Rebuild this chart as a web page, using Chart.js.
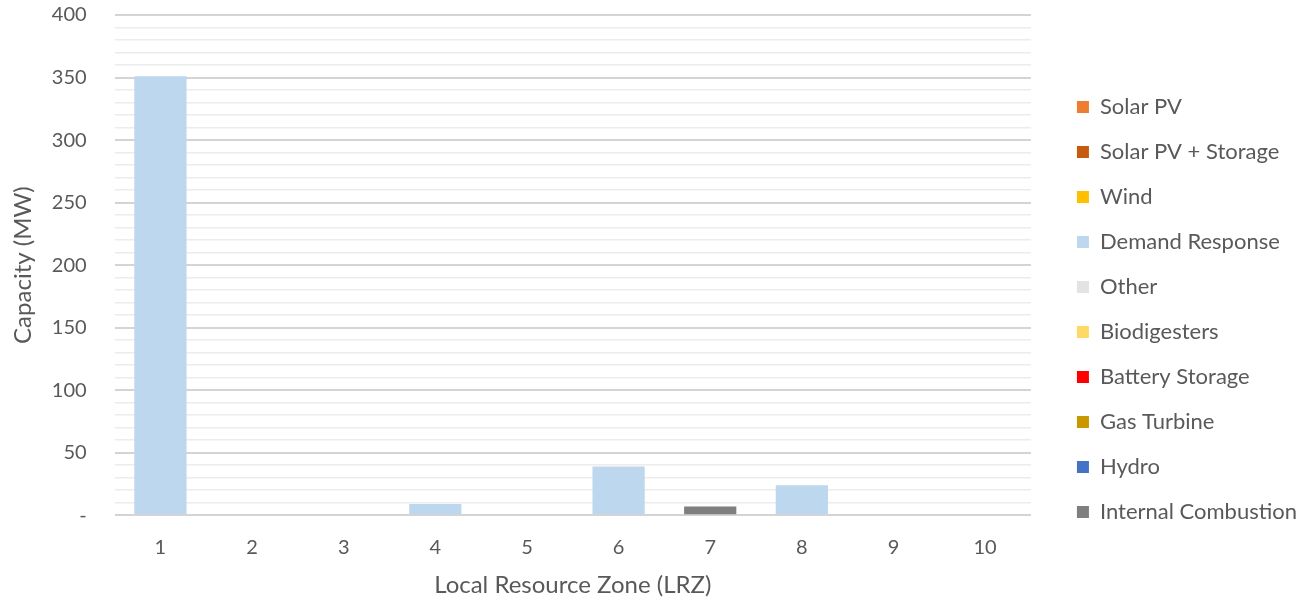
<!DOCTYPE html>
<html>
<head>
<meta charset="utf-8">
<script src="https://cdn.jsdelivr.net/npm/chart.js@4/dist/chart.umd.min.js"></script>
<style>
  html, body { margin: 0; padding: 0; background: #fff; }
  #wrap { width: 1300px; height: 601px; }
</style>
</head>
<body>
<div id="wrap"><canvas id="grafico"></canvas></div>
<script>
    var zonas = ['1', '2', '3', '4', '5', '6', '7', '8', '9', '10'];

    var solarPV        = [0, 0, 0, 0, 0, 0, 0, 0, 0, 0];
    var solarStorage   = [0, 0, 0, 0, 0, 0, 0, 0, 0, 0];
    var wind           = [0, 0, 0, 0, 0, 0, 0, 0, 0, 0];
    var demandResponse = [351, 0, 0, 9, 0, 39, 0, 24, 0, 0];
    var other          = [0, 0, 0, 0, 0, 0, 0, 0, 0, 0];
    var biodigesters   = [0, 0, 0, 0, 0, 0, 0, 0, 0, 0];
    var battery        = [0, 0, 0, 0, 0, 0, 0, 0, 0, 0];
    var gasTurbine     = [0, 0, 0, 0, 0, 0, 0, 0, 0, 0];
    var hydro          = [0, 0, 0, 0, 0, 0, 0, 0, 0, 0];
    var internalComb   = [0, 0, 0, 0, 0, 0, 7, 0, 0, 0];

    var yTicks = [0, 50, 100, 150, 200, 250, 300, 350, 400];

    var fonte = 'Lato, "Open Sans", sans-serif';
    var cinza = '#595959';

    function serie(label, data, cor) {
        return {
            label: label,
            data: data,
            backgroundColor: cor,
            borderWidth: 0,
            categoryPercentage: 1,
            barPercentage: 0.57
        };
    }

    new Chart(document.getElementById('grafico'), {
        type: 'bar',
        data: {
            labels: zonas,
            datasets: [
                serie('Solar PV', solarPV, '#ed7d31'),
                serie('Solar PV + Storage', solarStorage, '#c55a11'),
                serie('Wind', wind, '#ffc000'),
                serie('Demand Response', demandResponse, '#bdd7ee'),
                serie('Other', other, '#e3e3e3'),
                serie('Biodigesters', biodigesters, '#ffd966'),
                serie('Battery Storage', battery, '#ff0000'),
                serie('Gas Turbine', gasTurbine, '#c99700'),
                serie('Hydro', hydro, '#4472c4'),
                serie('Internal Combustion', internalComb, '#7f7f7f')
            ]
        },
        options: {
            responsive: true,
            maintainAspectRatio: false,
            animation: false,
            layout: { padding: { top: 0, right: -7, bottom: -18, left: 0 } },
            plugins: {
                legend: {
                    position: 'right',
                    maxWidth: 320,
                    labels: {
                        boxWidth: 12,
                        boxHeight: 12,
                        padding: 23,
                        color: cinza,
                        font: { family: fonte, size: 22 }
                    }
                },
                tooltip: { enabled: false }
            },
            scales: {
                x: {
                    stacked: true,
                    grid: { display: true, color: 'transparent', drawTicks: true, tickLength: 18, tickColor: 'transparent' },
                    border: { display: false },
                    ticks: { color: cinza, font: { family: fonte, size: 20, lineHeight: 1.2 }, padding: 2 },
                    title: {
                        display: true,
                        text: 'Local Resource Zone (LRZ)',
                        color: cinza,
                        font: { family: fonte, size: 24 },
                        padding: { top: 10, bottom: 19 }
                    }
                },
                y: {
                    stacked: true,
                    min: 0,
                    max: 400,
                    border: { display: false },
                    afterBuildTicks: function (axis) {
                        var t = [];
                        for (var v = 0; v <= 400; v += 10) t.push({ value: v });
                        axis.ticks = t;
                    },
                    grid: {
                        drawTicks: true,
                        tickLength: 23,
                        tickColor: 'transparent',
                        color: function (ctx) {
                            if (!ctx.tick) return '#efefef';
                            return yTicks.indexOf(ctx.tick.value) >= 0 ? '#d4d4d4' : '#ececec';
                        },
                        lineWidth: function (ctx) {
                            if (!ctx.tick) return 1;
                            return yTicks.indexOf(ctx.tick.value) >= 0 ? 2 : 1.5;
                        }
                    },
                    ticks: {
                        autoSkip: false,
                        color: cinza,
                        font: { family: fonte, size: 20, lineHeight: 1 },
                        padding: 5,
                        callback: function (value) {
                            if (yTicks.indexOf(value) < 0) return '';
                            return value === 0 ? '-' : value;
                        }
                    },
                    title: {
                        display: true,
                        text: 'Capacity (MW)',
                        color: cinza,
                        font: { family: fonte, size: 24 },
                        padding: { top: 9, bottom: 9 }
                    }
                },
                // espaco vazio entre a area do grafico e a legenda
                folga: {
                    position: 'right',
                    display: true,
                    grid: { display: false, drawTicks: false },
                    border: { display: false },
                    ticks: { display: false },
                    afterFit: function (s) { s.width = 23; }
                }
            }
        }
    });
</script>
</body>
</html>
